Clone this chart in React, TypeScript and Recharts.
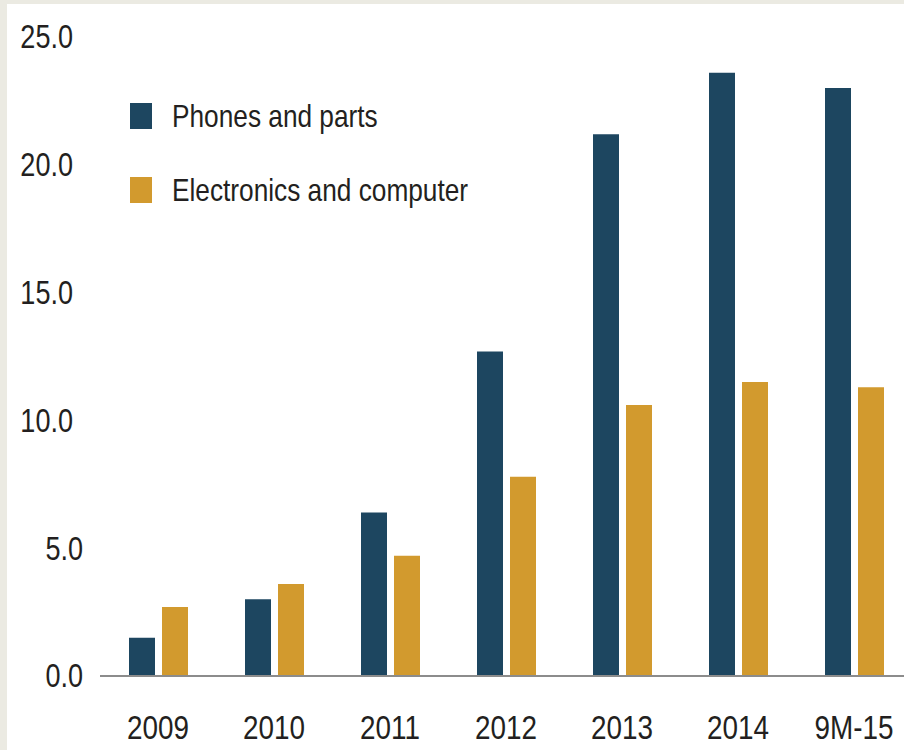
import { BarChart, Bar, XAxis, YAxis, Legend } from 'recharts'

const CATEGORIES = ['2009', '2010', '2011', '2012', '2013', '2014', '9M-15']
const PHONES = [1.5, 3.0, 6.4, 12.7, 21.2, 23.6, 23.0]
const ELECTRONICS = [2.7, 3.6, 4.7, 7.8, 10.6, 11.5, 11.3]
const Y_TICKS = [0, 5, 10, 15, 20, 25]

const NAVY = '#1d4660'
const GOLD = '#d29a2e'
const TEXT = '#231f20'
const FONT = '"Liberation Sans", Arial, sans-serif'
// the reference uses a narrow face; squeeze Liberation Sans to match
const NARROW = 0.82

const SERIES = [
  { key: 'phones', name: 'Phones and parts', color: NAVY },
  { key: 'electronics', name: 'Electronics and computer', color: GOLD },
]

const data = CATEGORIES.map((cat, i) => ({
  cat,
  phones: PHONES[i],
  electronics: ELECTRONICS[i],
}))

function YTick({ y, payload }: any) {
  const label = Number(payload.value).toFixed(1)
  // short labels sit a little further right in the original
  const right = label.length > 3 ? 73 : 83
  return (
    <text
      transform={`translate(${right},${y}) scale(${NARROW},1)`}
      textAnchor="end"
      dominantBaseline="central"
      fill={TEXT}
      fontSize={33}
      fontFamily={FONT}
    >
      {label}
    </text>
  )
}

function XTick({ x, y, payload }: any) {
  return (
    <text
      transform={`translate(${x},${y + 44}) scale(${NARROW},1)`}
      textAnchor="middle"
      dominantBaseline="central"
      fill={TEXT}
      fontSize={34}
      fontFamily={FONT}
    >
      {payload.value}
    </text>
  )
}

function LegendBox() {
  return (
    <div style={{ fontFamily: FONT, fontSize: 32, color: TEXT, textAlign: 'left' }}>
      {SERIES.map((s, idx) => (
        <div key={s.key} style={{ display: 'flex', alignItems: 'center', height: 26, marginBottom: idx === 0 ? 48 : 0 }}>
          <span style={{ display: 'inline-block', width: 22, height: 26, background: s.color, marginRight: 20, flexShrink: 0 }} />
          <span
            style={{
              lineHeight: '26px',
              whiteSpace: 'nowrap',
              display: 'inline-block',
              transform: `scaleX(${NARROW})`,
              transformOrigin: 'left center',
            }}
          >
            {s.name}
          </span>
        </div>
      ))}
    </div>
  )
}

export default function App() {
  return (
    <div
      style={{
        position: 'fixed',
        left: 0,
        top: 0,
        width: 904,
        height: 750,
        overflow: 'hidden',
        background: '#ebeae2',
      }}
    >
      <div style={{ position: 'absolute', left: 7, top: 4, right: 0, bottom: 0, background: '#ffffff' }} />
      <div style={{ position: 'absolute', left: 0, top: 0 }}>
        <BarChart
          width={912}
          height={750}
          data={data}
          margin={{ top: 37, right: 0, left: 0, bottom: 0 }}
          barSize={26}
          barGap={7}
        >
          <XAxis
            dataKey="cat"
            height={74}
            tick={<XTick />}
            tickLine={false}
            axisLine={{ stroke: '#8c8c8c', strokeWidth: 2 }}
            interval={0}
          />
          <YAxis
            width={100}
            domain={[0, 25]}
            ticks={Y_TICKS}
            tick={<YTick />}
            tickLine={false}
            axisLine={false}
          />
          <Legend
            layout="horizontal"
            align="center"
            verticalAlign="middle"
            content={<LegendBox />}
            wrapperStyle={{ position: 'absolute', left: 130, top: 103, width: 500 }}
          />
          {SERIES.map((s) => (
            <Bar key={s.key} dataKey={s.key} name={s.name} fill={s.color} isAnimationActive={false} />
          ))}
        </BarChart>
      </div>
    </div>
  )
}
